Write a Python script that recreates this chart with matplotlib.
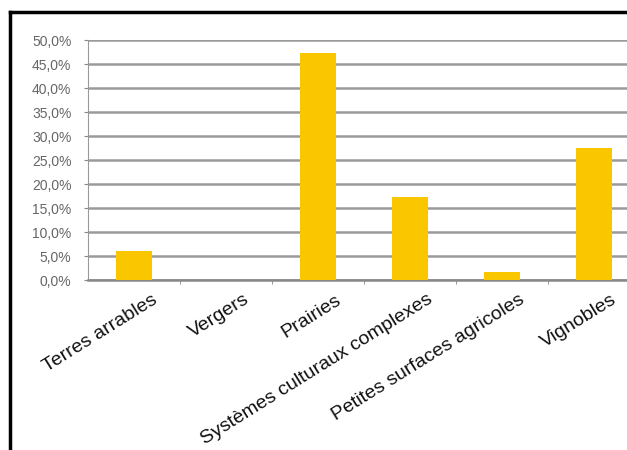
import matplotlib
matplotlib.use('Agg')
import matplotlib.pyplot as plt
from matplotlib.lines import Line2D
from matplotlib.transforms import ScaledTranslation
import numpy as np

categories = ['Terres arrables', 'Vergers', 'Prairies', 'Systèmes culturaux complexes',
              'Petites surfaces agricoles', 'Vignobles']
values = [6.0, 0.0, 47.3, 17.3, 1.7, 27.5]
yticks = [0, 5, 10, 15, 20, 25, 30, 35, 40, 45, 50]
ylabels = ['%.1f%%' % v for v in yticks]
ylabels = [s.replace('.', ',') for s in ylabels]

plt.rcParams['font.family'] = ['Liberation Sans', 'DejaVu Sans']

fig = plt.figure(figsize=(6.27, 4.5), dpi=100)
ax = fig.add_axes([88/627, 170/450, 552/627, 240/450])

x = np.arange(len(categories))
ax.bar(x, values, width=0.4, color='#F9C600', zorder=3)

ax.set_xlim(-0.5, len(categories) - 0.5)
ax.set_ylim(0, 50)
ax.set_yticks(yticks)
ax.set_yticklabels(ylabels, fontsize=10, color='#666666')
ax.yaxis.grid(True, color='#9a9a9a', linewidth=1.8, zorder=0)
ax.tick_params(axis='y', length=3, color='#888888', pad=9)

# category labels, rotated
ax.set_xticks(x)
ax.set_xticklabels(categories, rotation=32, ha='right', va='top',
                   rotation_mode='anchor', fontsize=14, color='#111111')
ax.tick_params(axis='x', length=0, pad=8)
off = ScaledTranslation(17/100, 0, fig.dpi_scale_trans)
for lab in ax.get_xticklabels():
    lab.set_transform(lab.get_transform() + off)

# small ticks between categories
ax.set_xticks(np.arange(0.5, len(categories) - 0.5, 1), minor=True)
ax.tick_params(axis='x', which='minor', length=3, color='#888888')

for s in ['top', 'right']:
    ax.spines[s].set_visible(False)
ax.spines['left'].set_color('#999999')
ax.spines['bottom'].set_color('#888888')
ax.spines['bottom'].set_linewidth(1.8)

# outer frame (left and top edges)
fig.add_artist(Line2D([10/627, 10/627], [0, 1 - 12/450], color='black', linewidth=2.5,
                      transform=fig.transFigure))
fig.add_artist(Line2D([10/627, 1], [1 - 12/450, 1 - 12/450], color='black', linewidth=2.5,
                      transform=fig.transFigure))

fig.savefig('out.png', dpi=100)
